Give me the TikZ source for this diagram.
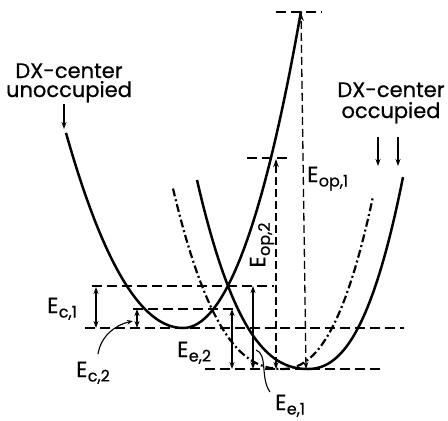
\documentclass[tikz,border=0pt]{standalone}
\usepackage{fontspec}
\setmainfont{Poppins}[FakeBold=0.6]
\usetikzlibrary{arrows.meta}
\newcommand\EnLab[1]{E\kern0.3pt\raisebox{-4.5pt}{\fontsize{16}{16}\selectfont #1}}
\begin{document}
\begin{tikzpicture}[x=1pt,y=-1pt,
  curve/.style={line width=2.5pt},
  dashdot/.style={line width=2.2pt, dash pattern=on 8pt off 3pt on 2pt off 3pt},
  dline/.style={line width=1.4pt, dash pattern=on 10pt off 5pt},
  dimarrow/.style={line width=1.3pt, {Stealth[length=7pt,width=5pt]}-{Stealth[length=7pt,width=5pt]}},
  optarrow/.style={line width=1.3pt, dash pattern=on 8pt off 4pt, {Stealth[length=7pt,width=5pt]}-{Stealth[length=8pt,width=5.5pt]}},
  pointer/.style={line width=1.3pt, -{Stealth[length=7pt,width=5pt]}},
  leader/.style={line width=1.1pt},
  lbl/.style={font=\fontsize{21}{21}\selectfont, inner sep=0pt},
  elbl/.style={font=\fontsize{22}{22}\selectfont, inner sep=0pt}]
\useasboundingbox (0,0) rectangle (448,421);

% curves
\draw[curve] plot[domain=-117:0, samples=60] ({183+\x},{328-(125*(\x/100)*(\x/100)+15*abs(\x/100)*(\x/100)*(\x/100))})
  -- plot[domain=0:118, samples=60] ({183+\x},{328-(198*(\x/100)*(\x/100)+25*(\x/100)*(\x/100)*(\x/100))});
\draw[curve] plot[domain=-111:0, samples=60] ({308+\x},{369-(68.6*(\x/100)*(\x/100)+76.4*abs(\x/100)*(\x/100)*(\x/100))})
  -- plot[domain=0:95, samples=60] ({308+\x},{369-(110*(\x/100)*(\x/100)+108*(\x/100)*(\x/100)*(\x/100))});
\draw[dashdot] plot[domain=-109:0, samples=60] ({282+\x},{369-(68.6*(\x/100)*(\x/100)+76.4*abs(\x/100)*(\x/100)*(\x/100))})
  -- plot[domain=0:91, samples=60] ({282+\x},{369-(110*(\x/100)*(\x/100)+108*(\x/100)*(\x/100)*(\x/100))});

% horizontal dashed levels
\coordinate (h1a) at (92,286);  \coordinate (h1b) at (274,286);
\coordinate (h2a) at (133,309); \coordinate (h2b) at (237,309);
\coordinate (h3a) at (85,328);  \coordinate (h3b) at (404,328);
\coordinate (h4a) at (205,369); \coordinate (h4b) at (383,369);
\coordinate (h5a) at (276,12);  \coordinate (h5b) at (322,12);
\coordinate (h6a) at (247,158); \coordinate (h6b) at (290,158);
\foreach \i in {1,...,6} \draw[dline] (h\i a) -- (h\i b);

% dimension arrows
\coordinate (c1t) at (96,287);  \coordinate (c1b) at (96,328);
\coordinate (c2t) at (137,309); \coordinate (c2b) at (137,328);
\coordinate (e2t) at (232,309); \coordinate (e2b) at (232,369);
\coordinate (e1t) at (253,286); \coordinate (e1b) at (253,369);
\coordinate (o2t) at (276,159); \coordinate (o2b) at (276,369);
\coordinate (o1t) at (301,13);  \coordinate (o1b) at (306,369);
\draw[dimarrow] (c1t) -- (c1b);
\draw[dimarrow] (c2t) -- (c2b);
\draw[dimarrow] (e2t) -- (e2b);
\draw[dimarrow] (e1t) -- (e1b);
\draw[optarrow] (o2b) -- (o2t);
\draw[optarrow] (o1b) -- (o1t);

% labels
\node[lbl, anchor=base] (dxu1) at (69,78) {DX-center};
\node[lbl, anchor=base] (dxu2) at (69,97) {unoccupied};
\node[lbl, anchor=base] (dxo1) at (391,97) {DX-center};
\node[lbl, anchor=base] (dxo2) at (391,118) {occupied};
\coordinate (pu1) at (64,104);  \coordinate (pu2) at (64,129);
\coordinate (po1) at (378,137); \coordinate (po2) at (378,166);
\coordinate (po3) at (398,137); \coordinate (po4) at (398,166);
\draw[pointer] (pu1) -- (pu2);
\draw[pointer] (po1) -- (po2);
\draw[pointer] (po3) -- (po4);

\node[elbl, anchor=base west] (ec1) at (47,313) {\EnLab{c,1}};
\node[elbl, anchor=base west] (ec2) at (76,377) {\EnLab{c,2}};
\node[elbl, anchor=base west] (ee2) at (177,357) {\EnLab{e,2}};
\node[elbl, anchor=base west] (ee1) at (275,410) {\EnLab{e,1}};
\node[elbl, anchor=base west] (eop1) at (307,182) {\EnLab{op,1}};
\node[elbl, rotate=90] (eop2) at (262,245) {\EnLab{op,2}};

% leaders
\coordinate (l1a) at (98,354); \coordinate (l1b) at (133,321);
\draw[leader, -{Stealth[length=6pt,width=4.5pt]}] (l1a) .. controls (101,336) and (115,325) .. (l1b);
\coordinate (l2a) at (270,392); \coordinate (l2b) at (256,350);
\draw[leader] (l2a) .. controls (260,378) and (268,354) .. (l2b);
\end{tikzpicture}
\end{document}
